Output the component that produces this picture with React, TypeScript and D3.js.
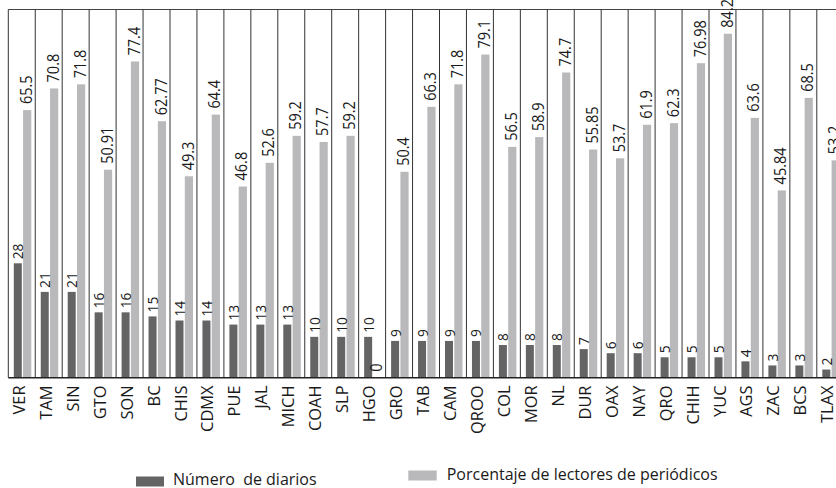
import React from "react";
import * as d3 from "d3";

const categories = ["VER","TAM","SIN","GTO","SON","BC","CHIS","CDMX","PUE","JAL","MICH","COAH","SLP","HGO","GRO","TAB","CAM","QROO","COL","MOR","NL","DUR","OAX","NAY","QRO","CHIH","YUC","AGS","ZAC","BCS","TLAX"];
const diarios = [28,21,21,16,16,15,14,14,13,13,13,10,10,10,9,9,9,9,8,8,8,7,6,6,5,5,5,4,3,3,2];
const lectores = [65.5,70.8,71.8,50.91,77.4,62.77,49.3,64.4,46.8,52.6,59.2,57.7,59.2,0,50.4,66.3,71.8,79.1,56.5,58.9,74.7,55.85,53.7,61.9,62.3,76.98,84.2,63.6,45.84,68.5,53.2];
const seriesNames = ["Número  de diarios", "Porcentaje de lectores de periódicos"];

const W = 836, H = 488;
const left = 8.3, bandW = 26.95, base = 377.7;
const FONT = "'Open Sans', 'Noto Sans', sans-serif";
const DARK = "#646464", LIGHT = "#b9b9bb";

export default function App() {
  const x = d3.scaleBand<string>().domain(categories).range([left, left + bandW * categories.length]).padding(0);
  const y = d3.scaleLinear().domain([0, 90]).range([base, 10]);
  const bounds = d3.range(categories.length + 1).map((i) => left + i * x.bandwidth());

  return (
    <svg width={W} height={H} style={{ position: "absolute", left: 0, top: 0, background: "#fff" }} fontFamily={FONT}>
      {/* frame */}
      <line x1={left} x2={W} y1={9.5} y2={9.5} stroke="#444" strokeWidth={1} />
      {bounds.map((bx, i) => (
        <line key={"s" + i} x1={bx} x2={bx} y1={9.5} y2={base} stroke="#333" strokeWidth={1} />
      ))}
      {categories.map((c, i) => {
        const bx = x(c)!;
        return (
          <g key={c}>
            <rect x={bx + 5.5} y={y(diarios[i])} width={8} height={base - y(diarios[i])} fill={DARK} />
            <rect x={bx + 14.8} y={y(lectores[i])} width={8.2} height={base - y(lectores[i])} fill={LIGHT} />
            <text transform={`translate(${bx + 15},${y(diarios[i]) - 4}) rotate(-90) scale(0.95,1)`} fontSize={14.5} fill="#1a1a1a">{String(diarios[i])}</text>
            <text transform={`translate(${bx + 23.5},${y(lectores[i]) - 6}) rotate(-90) scale(0.88,1)`} fontSize={16.5} fill="#1a1a1a">{String(lectores[i])}</text>
            <text transform={`translate(${bx + 16.5},385.5) rotate(-90)`} textAnchor="end" fontSize={16.4} fill="#1a1a1a">{c}</text>
          </g>
        );
      })}
      <line x1={left} x2={W} y1={base} y2={base} stroke="#222" strokeWidth={1.5} />
      {/* legend */}
      <rect x={136} y={476.5} width={28} height={10} fill={DARK} />
      <text x={173} y={485} fontSize={16} fill="#1a1a1a" style={{ whiteSpace: "pre" }}>{seriesNames[0]}</text>
      <rect x={408.3} y={470.5} width={28.4} height={10} fill={LIGHT} />
      <text x={446.7} y={480} fontSize={16} fill="#1a1a1a">{seriesNames[1]}</text>
    </svg>
  );
}
